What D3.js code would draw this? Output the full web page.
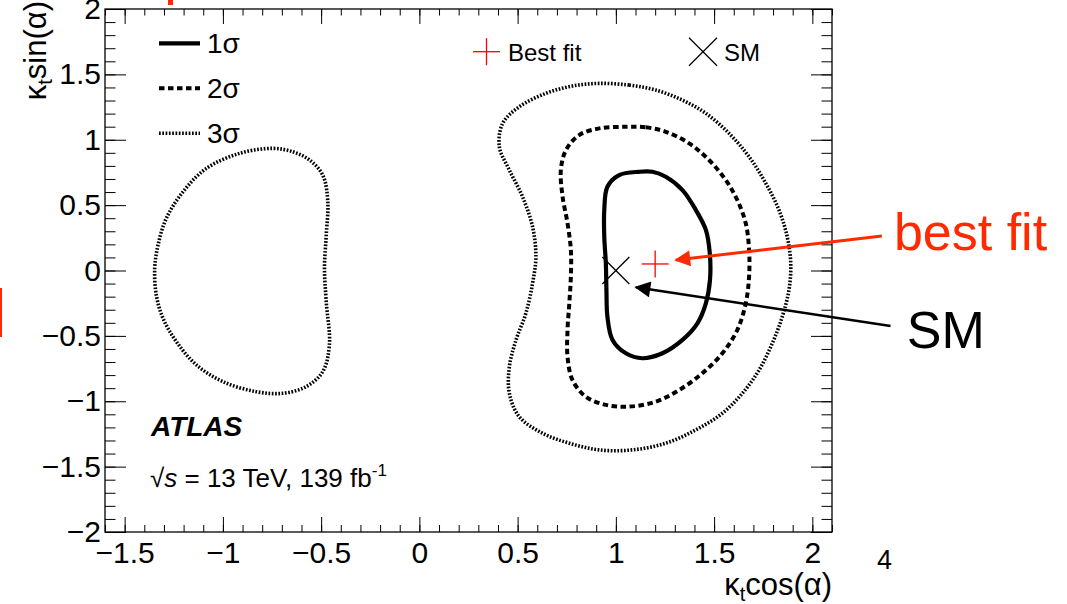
<!DOCTYPE html>
<html><head><meta charset="utf-8">
<script src="https://cdn.jsdelivr.net/npm/d3@7/dist/d3.min.js"></script>
<style>
body{margin:0;background:#fff}
svg{display:block}
text{font-family:"Liberation Sans",Arial,Helvetica,sans-serif}
</style>
</head><body>
<svg id="c" width="1067" height="604"></svg>
<script>
// ---------- data ----------
const xTicks = [-1.5, -1, -0.5, 0, 0.5, 1, 1.5, 2];
const yTicks = [-2, -1.5, -1, -0.5, 0, 0.5, 1, 1.5, 2];
const xDomain = [-1.6, 2.1];
const yDomain = [-2, 2];

// 1 sigma contour (kt cos a, kt sin a)
const sigma1 = [
  [1.118,0.755],[1.186,0.755],[1.254,0.717],[1.339,0.615],[1.407,0.463],[1.458,0.310],
  [1.478,0.131],[1.479,-0.073],[1.458,-0.251],[1.415,-0.404],[1.339,-0.531],[1.237,-0.633],
  [1.135,-0.671],[1.051,-0.633],[0.983,-0.531],[0.957,-0.353],[0.952,-0.149],[0.949,0.055],
  [0.941,0.258],[0.941,0.463],[0.957,0.641],[1.017,0.730]
];
// 2 sigma contour
const sigma2 = [
  [1.051,1.099],[1.153,1.095],[1.254,1.061],[1.373,0.972],[1.474,0.845],[1.559,0.692],
  [1.618,0.539],[1.661,0.361],[1.678,0.157],[1.678,-0.047],[1.661,-0.251],[1.618,-0.455],
  [1.542,-0.633],[1.440,-0.786],[1.322,-0.914],[1.203,-1.003],[1.068,-1.041],[0.949,-1.028],
  [0.847,-0.965],[0.779,-0.837],[0.754,-0.659],[0.754,-0.455],[0.763,-0.251],[0.771,-0.047],
  [0.771,0.157],[0.754,0.361],[0.729,0.564],[0.720,0.768],[0.746,0.921],[0.813,1.036],[0.915,1.087]
];
// 3 sigma contour, right island
const sigma3Right = [
  [0.915,1.431],[1.068,1.418],[1.203,1.380],[1.339,1.303],[1.458,1.202],[1.576,1.049],
  [1.678,0.870],[1.763,0.667],[1.830,0.463],[1.872,0.258],[1.890,0.055],[1.881,-0.149],
  [1.847,-0.353],[1.796,-0.557],[1.729,-0.761],[1.644,-0.939],[1.542,-1.092],[1.407,-1.219],
  [1.254,-1.321],[1.084,-1.372],[0.915,-1.372],[0.763,-1.321],[0.627,-1.245],[0.508,-1.118],
  [0.458,-0.939],[0.458,-0.735],[0.492,-0.531],[0.542,-0.327],[0.576,-0.098],[0.593,0.106],
  [0.576,0.335],[0.525,0.564],[0.458,0.768],[0.407,0.946],[0.424,1.125],[0.508,1.252],
  [0.644,1.355],[0.779,1.411]
];
// 3 sigma contour, left island
const sigma3Left = [
  [-0.746,0.934],[-0.644,0.908],[-0.559,0.845],[-0.492,0.730],[-0.466,0.526],[-0.474,0.271],
  [-0.483,0.017],[-0.474,-0.239],[-0.458,-0.570],[-0.492,-0.774],[-0.576,-0.888],[-0.695,-0.939],
  [-0.830,-0.927],[-1.000,-0.850],[-1.135,-0.722],[-1.237,-0.544],[-1.305,-0.365],[-1.339,-0.187],
  [-1.347,0.017],[-1.330,0.195],[-1.288,0.399],[-1.203,0.602],[-1.084,0.781],[-0.915,0.896]
];
const bestFit = [1.2, 0.05];
const smPoint = [1.0, 0.0];

// annotation anchors (data units)
const bestFitArrow = {from:[2.354,0.264], to:[1.305,0.08], label:[2.415,0.157], text:"best fit"};
const smArrow = {from:[2.398,-0.424], to:[1.102,-0.128], label:[2.481,-0.593], text:"SM"};

const legendLines = [
  {label:"1σ", w:4.2, dash:null},
  {label:"2σ", w:4, dash:"5.5 3.5"},
  {label:"3σ", w:3.6, dash:"1.7 1.6"}
];

// ---------- layout ----------
const svg = d3.select("#c");
const L = 105, R = 832, T = 9, B = 532;
const x = d3.scaleLinear().domain(xDomain).range([L, R]);
const y = d3.scaleLinear().domain(yDomain).range([B, T]);
const fmt = d3.format("");
const tickFont = 30;

const xMinor = d3.range(-16, 22).map(v => v/10);
const yMinor = d3.range(-20, 21).map(v => v/10);

function clean(g){ g.select(".domain").remove(); g.selectAll("line").attr("stroke","#000").attr("stroke-width",1); }

// minor ticks
svg.append("g").attr("transform",`translate(0,${B})`)
  .call(d3.axisBottom(x).tickValues(xMinor).tickSizeInner(-7).tickSizeOuter(0).tickFormat(""))
  .call(clean);
svg.append("g").attr("transform",`translate(0,${T})`)
  .call(d3.axisTop(x).tickValues(xMinor).tickSizeInner(-6.5).tickSizeOuter(0).tickFormat(""))
  .call(clean);
svg.append("g").attr("transform",`translate(${L},0)`)
  .call(d3.axisLeft(y).tickValues(yMinor).tickSizeInner(-10.5).tickSizeOuter(0).tickFormat(""))
  .call(clean);
svg.append("g").attr("transform",`translate(${R},0)`)
  .call(d3.axisRight(y).tickValues(yMinor).tickSizeInner(-10.5).tickSizeOuter(0).tickFormat(""))
  .call(clean);

// major ticks
const gx = svg.append("g").attr("transform",`translate(0,${B})`)
  .call(d3.axisBottom(x).tickValues(xTicks).tickSizeInner(-15).tickSizeOuter(0).tickPadding(10).tickFormat(fmt))
  .call(clean);
gx.selectAll("text").attr("font-size",tickFont).attr("fill","#000")
  .attr("font-family","'Liberation Sans',Arial,sans-serif");
svg.append("g").attr("transform",`translate(0,${T})`)
  .call(d3.axisTop(x).tickValues(xTicks).tickSizeInner(-15).tickSizeOuter(0).tickFormat(""))
  .call(clean);
const gy = svg.append("g").attr("transform",`translate(${L},0)`)
  .call(d3.axisLeft(y).tickValues(yTicks).tickSizeInner(-21).tickSizeOuter(0).tickPadding(4).tickFormat(fmt))
  .call(clean);
gy.selectAll("text").attr("font-size",tickFont).attr("fill","#000")
  .attr("font-family","'Liberation Sans',Arial,sans-serif");
svg.append("g").attr("transform",`translate(${R},0)`)
  .call(d3.axisRight(y).tickValues(yTicks).tickSizeInner(-21).tickSizeOuter(0).tickFormat(""))
  .call(clean);

// frame
svg.append("rect").attr("x",L).attr("y",T).attr("width",R-L).attr("height",B-T)
  .attr("fill","none").attr("stroke","#000").attr("stroke-width",1.3);

// contours
const line = d3.line().x(d => x(d[0])).y(d => y(d[1])).curve(d3.curveCatmullRomClosed.alpha(0.5));
const contours = [
  {pts:sigma1, s:legendLines[0]},
  {pts:sigma2, s:legendLines[1]},
  {pts:sigma3Right, s:legendLines[2]},
  {pts:sigma3Left, s:legendLines[2]}
];
svg.append("g").selectAll("path").data(contours).join("path")
  .attr("d", d => line(d.pts))
  .attr("fill","none").attr("stroke","#000")
  .attr("stroke-width", d => d.s.w)
  .attr("stroke-dasharray", d => d.s.dash);

// markers
function plus(g, cx, cy, h, col){
  g.append("line").attr("x1",cx-h).attr("x2",cx+h).attr("y1",cy).attr("y2",cy).attr("stroke",col).attr("stroke-width",1.3);
  g.append("line").attr("x1",cx).attr("x2",cx).attr("y1",cy-h).attr("y2",cy+h).attr("stroke",col).attr("stroke-width",1.3);
}
function cross(g, cx, cy, h, col){
  g.append("line").attr("x1",cx-h).attr("x2",cx+h).attr("y1",cy-h).attr("y2",cy+h).attr("stroke",col).attr("stroke-width",1.3);
  g.append("line").attr("x1",cx-h).attr("x2",cx+h).attr("y1",cy+h).attr("y2",cy-h).attr("stroke",col).attr("stroke-width",1.3);
}
const mk = svg.append("g");
plus(mk, x(bestFit[0]), y(bestFit[1]), 13.5, "#ff0000");
cross(mk, x(smPoint[0]), y(smPoint[1]), 13.5, "#000");

// legend (left)
const lg = svg.append("g");
legendLines.forEach((d,i) => {
  const cy = 43.3 + i*45;
  lg.append("line").attr("x1",159).attr("x2",200).attr("y1",cy).attr("y2",cy)
    .attr("stroke","#000").attr("stroke-width",d.w).attr("stroke-dasharray",d.dash);
  lg.append("text").attr("x",207).attr("y",cy+10).attr("font-size",28).text(d.label);
});
// legend (top right)
plus(lg, 486.5, 51.7, 13.5, "#ff0000");
lg.append("text").attr("x",508).attr("y",60.5).attr("font-size",24).text("Best fit");
cross(lg, 703, 51.7, 14, "#000");
lg.append("text").attr("x",724).attr("y",60.5).attr("font-size",24).text("SM");

// ATLAS label
svg.append("text").attr("x",151).attr("y",436).attr("font-size",28)
  .attr("font-weight","bold").attr("font-style","italic").text("ATLAS");
const en = svg.append("text").attr("x",150).attr("y",487).attr("font-size",26);
en.append("tspan").text("√");
en.append("tspan").attr("font-style","italic").text("s");
en.append("tspan").text(" = 13 TeV, 139 fb");
en.append("tspan").attr("font-size",17).attr("dy",-11).text("-1");

// axis titles
const xt = svg.append("text").attr("x",832).attr("y",595).attr("text-anchor","end").attr("font-size",31);
xt.append("tspan").text("κ");
xt.append("tspan").attr("font-size",20).attr("dy",6).text("t");
xt.append("tspan").attr("dy",-6).text("cos(α)");
const yt = svg.append("text").attr("transform","translate(46,1) rotate(-90)").attr("text-anchor","end").attr("font-size",31);
yt.append("tspan").text("κ");
yt.append("tspan").attr("font-size",20).attr("dy",6).text("t");
yt.append("tspan").attr("dy",-6).text("sin(α)");

// annotations
const defs = svg.append("defs");
function arrowHead(id, col){
  defs.append("marker").attr("id",id).attr("viewBox","0 0 10 10").attr("refX",9).attr("refY",5)
    .attr("markerUnits","userSpaceOnUse").attr("markerWidth",17).attr("markerHeight",16).attr("orient","auto")
    .append("path").attr("d","M0,0 L10,5 L0,10 Z").attr("fill",col);
}
arrowHead("ahRed","#ff2a00");
arrowHead("ahBlack","#000");
const ann = svg.append("g");
ann.append("line").attr("x1",x(bestFitArrow.from[0])).attr("y1",y(bestFitArrow.from[1]))
  .attr("x2",x(bestFitArrow.to[0])).attr("y2",y(bestFitArrow.to[1]))
  .attr("stroke","#ff2a00").attr("stroke-width",3).attr("marker-end","url(#ahRed)");
ann.append("text").attr("x",x(bestFitArrow.label[0])).attr("y",y(bestFitArrow.label[1]))
  .attr("font-size",52).attr("fill","#ff2a00").text(bestFitArrow.text);
ann.append("line").attr("x1",x(smArrow.from[0])).attr("y1",y(smArrow.from[1]))
  .attr("x2",x(smArrow.to[0])).attr("y2",y(smArrow.to[1]))
  .attr("stroke","#000").attr("stroke-width",2.5).attr("marker-end","url(#ahBlack)");
ann.append("text").attr("x",x(smArrow.label[0])).attr("y",y(smArrow.label[1]))
  .attr("font-size",52).attr("fill","#000").text(smArrow.text);

// slide artefacts
svg.append("text").attr("x",877).attr("y",569).attr("font-size",27)
  .attr("font-family","'Liberation Serif','Times New Roman',serif").text("4");
svg.append("rect").attr("x",168).attr("y",0).attr("width",5).attr("height",5).attr("fill","#ff2a00");
svg.append("rect").attr("x",0).attr("y",288).attr("width",2).attr("height",49).attr("fill","#ff2a00");
</script>
</body></html>
